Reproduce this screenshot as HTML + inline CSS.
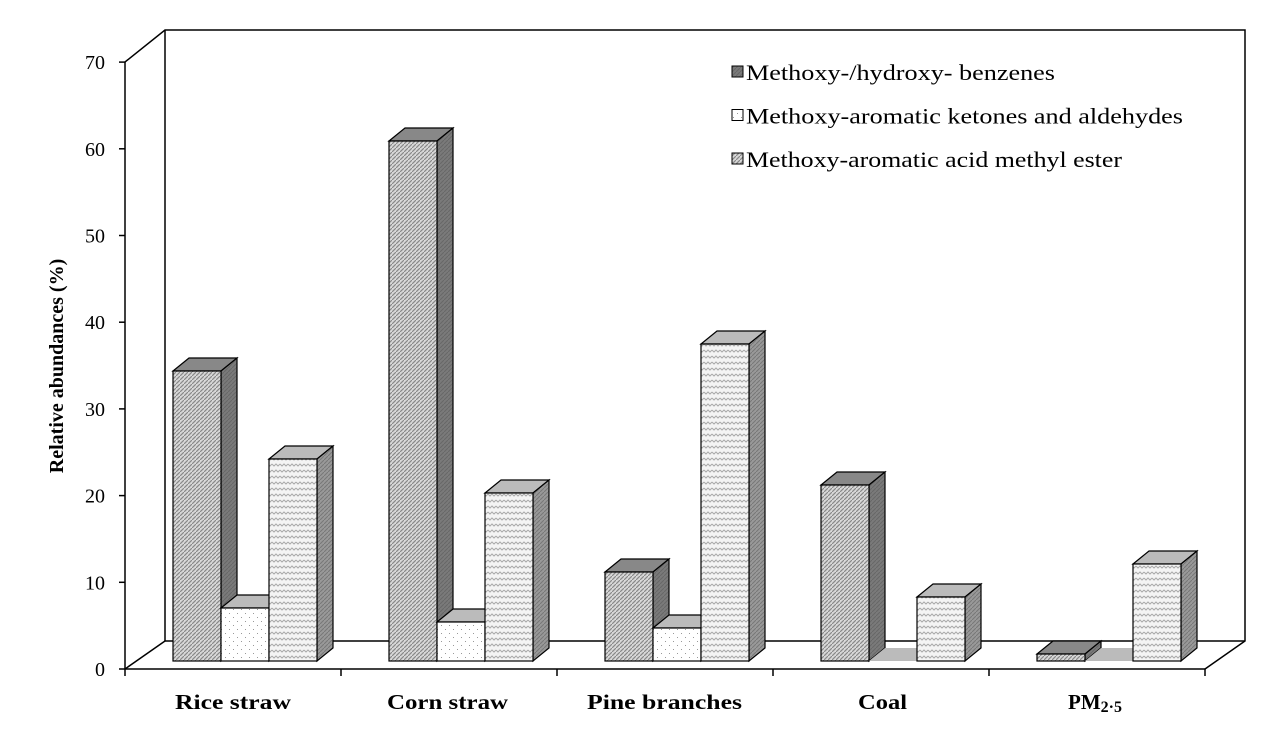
<!DOCTYPE html>
<html><head><meta charset="utf-8"><style>body{margin:0;background:#fff}svg{display:block}</style></head>
<body>
<svg id="s" width="1277" height="732" viewBox="0 0 1277 732" xmlns="http://www.w3.org/2000/svg" font-family="Liberation Serif, serif">
<defs>
<pattern id="p1" width="4" height="4" patternUnits="userSpaceOnUse"><rect width="4" height="4" fill="#d8d8d8"/><path d="M-1,5 L5,-1" stroke="#888" stroke-width="1.2"/></pattern>
<pattern id="p1s" width="4" height="4" patternUnits="userSpaceOnUse"><rect width="4" height="4" fill="#7a7a7a"/><path d="M-1,5 L5,-1" stroke="#666" stroke-width="1"/></pattern>
<pattern id="p2" width="8" height="8" patternUnits="userSpaceOnUse"><rect width="8" height="8" fill="#fff"/><rect x="1" y="1" width="1" height="1" fill="#999"/><rect x="5" y="5" width="1" height="1" fill="#999"/></pattern>
<pattern id="p3" width="8" height="6" patternUnits="userSpaceOnUse"><rect width="8" height="6" fill="#f4f4f4"/><path d="M0,2 L2,4 L4,2 L6,4 L8,2" fill="none" stroke="#aaa" stroke-width="1"/></pattern>
<pattern id="ps" width="4" height="4" patternUnits="userSpaceOnUse"><rect width="4" height="4" fill="#999"/><path d="M-1,5 L5,-1" stroke="#777" stroke-width="1"/></pattern>
</defs>
<g id="g" stroke="#000" fill="none" stroke-width="1.5"></g>
</svg>
<script>
var g=document.getElementById('g'),h='';
h+='<polyline points="125,62 165,30 1245,30 1245,641 1205,669"/>';
h+='<line x1="165" y1="30" x2="165" y2="641"/>';
h+='<line x1="165" y1="641" x2="1245" y2="641"/>';
h+='<line x1="125" y1="669" x2="165" y2="641"/>';
h+='<line x1="125" y1="62" x2="125" y2="669"/>';
h+='<line x1="125" y1="669" x2="1205" y2="669"/>';
for(var i=0;i<=7;i++){var y=669-i*86.7;h+='<line x1="119" y1="'+y+'" x2="125" y2="'+y+'"/>';
h+='<text x="105" y="'+(y+7)+'" font-size="20" text-anchor="end" stroke="none" fill="#000">'+(i*10)+'</text>';}
for(var k=0;k<6;k++){var x=125+216*k;h+='<line x1="'+x+'" y1="669" x2="'+x+'" y2="676"/>';}
var tops=[[371,608,459],[141,622,493],[572,628,344],[485,661,597],[654,661,564]];
var dx=16,dy=-13,w=48,base=661;
var fr=['url(#p1)','url(#p2)','url(#p3)'];
for(var c=0;c<5;c++)for(var s=0;s<3;s++){
 var x=173+216*c+48*s,t=tops[c][s];
 var zero=t>=base;
 h+='<polygon points="'+x+','+t+' '+(x+dx)+','+(t+dy)+' '+(x+w+dx)+','+(t+dy)+' '+(x+w)+','+t+'" fill="'+(s==0?'#888':'#bbb')+'" stroke="'+(zero?'none':'#000')+'" stroke-width="1.2"/>';
 if(!zero){
 h+='<polygon points="'+(x+w)+','+t+' '+(x+w+dx)+','+(t+dy)+' '+(x+w+dx)+','+(base+dy)+' '+(x+w)+','+base+'" fill="'+(s==0?'url(#p1s)':'url(#ps)')+'" stroke-width="1.2"/>';
 h+='<rect x="'+x+'" y="'+t+'" width="'+w+'" height="'+(base-t)+'" fill="'+fr[s]+'" stroke-width="1.2"/>';}
}
var labs=['Rice straw','Corn straw','Pine branches','Coal'];
var lx=[175,387,587,858], lw=[116,121,155,49];
for(var i=0;i<4;i++)h+='<text x="'+lx[i]+'" y="709" font-size="21" font-weight="bold" textLength="'+lw[i]+'" lengthAdjust="spacingAndGlyphs" stroke="none" fill="#000">'+labs[i]+'</text>';
h+='<text x="1095" y="709" font-size="21" font-weight="bold" text-anchor="middle" stroke="none" fill="#000">PM<tspan font-size="16" dy="3">2·5</tspan></text>';
h+='<text transform="translate(63,366) rotate(-90)" font-size="20" font-weight="bold" text-anchor="middle" stroke="none" fill="#000">Relative abundances (%)</text>';
var lg=['Methoxy-/hydroxy- benzenes','Methoxy-aromatic ketones and aldehydes','Methoxy-aromatic acid methyl ester'];
var lL=[309,437,376];
var lf=['url(#p1s)','url(#p2)','url(#p1)'];
for(var i=0;i<3;i++){var y=73+43.5*i;h+='<rect x="732" y="'+(y-7)+'" width="11" height="11" fill="'+lf[i]+'" stroke-width="1"/>';
h+='<text x="746" y="'+(y+7)+'" font-size="22" textLength="'+lL[i]+'" lengthAdjust="spacingAndGlyphs" stroke="none" fill="#000">'+lg[i]+'</text>';}
g.innerHTML=h;
</script>
</body></html>
